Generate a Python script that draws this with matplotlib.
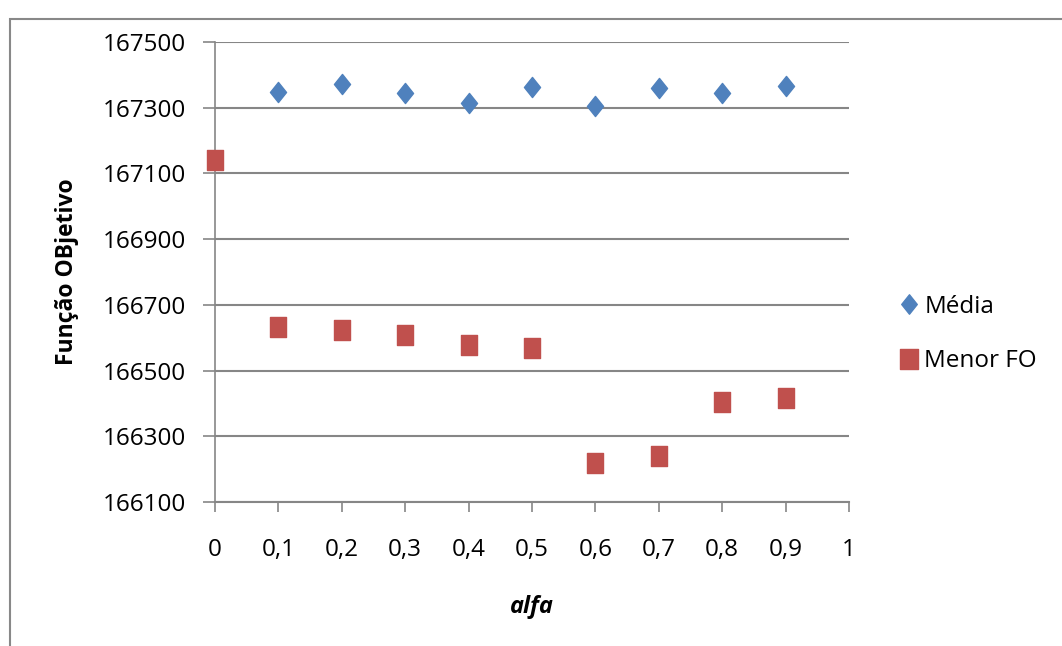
import matplotlib
matplotlib.use("Agg")
import matplotlib.pyplot as plt
from matplotlib.path import Path
from matplotlib.lines import Line2D
from matplotlib.patches import Rectangle

alfa = [0.0, 0.1, 0.2, 0.3, 0.4, 0.5, 0.6, 0.7, 0.8, 0.9]
media_x = [0.1, 0.2, 0.3, 0.4, 0.5, 0.6, 0.7, 0.8, 0.9]
media = [167348, 167372, 167344, 167313, 167364, 167306, 167360, 167346, 167366]
menor_fo = [167142, 166632, 166622, 166609, 166579, 166569, 166219, 166240, 166405, 166416]
xticks = [0, 0.1, 0.2, 0.3, 0.4, 0.5, 0.6, 0.7, 0.8, 0.9, 1.0]
xticklabels = ["0", "0,1", "0,2", "0,3", "0,4", "0,5", "0,6", "0,7", "0,8", "0,9", "1"]
yticks = [166100, 166300, 166500, 166700, 166900, 167100, 167300, 167500]

BLUE = "#4F81BD"
RED = "#C0504D"
GRID = "#868686"
FONT = "Open Sans"
FS = 17.5

diamond = Path([(0, 0.5), (0.4, 0), (0, -0.5), (-0.4, 0), (0, 0.5)],
               [Path.MOVETO, Path.LINETO, Path.LINETO, Path.LINETO, Path.CLOSEPOLY])
rect = Path([(-0.42, -0.5), (0.42, -0.5), (0.42, 0.5), (-0.42, 0.5), (-0.42, -0.5)],
            [Path.MOVETO, Path.LINETO, Path.LINETO, Path.LINETO, Path.CLOSEPOLY])

fig = plt.figure(figsize=(10.62, 6.46), dpi=100)
fig.patches.append(Rectangle((10 / 1062, -0.1), 1.2, (646 - 19) / 646 + 0.1,
                             transform=fig.transFigure, fill=False,
                             edgecolor="#888888", linewidth=1.5, zorder=0))

ax = fig.add_axes([215 / 1062, 1 - 502 / 646, (849 - 215) / 1062, (502 - 42) / 646])
ax.set_xlim(0, 1)
ax.set_ylim(166100, 167500)

ax.scatter(media_x, media, marker=diamond, s=210, color=BLUE, zorder=3,
           clip_on=False, label="Média")
ax.scatter(alfa, menor_fo, marker=rect, s=210, color=RED, zorder=3,
           clip_on=False, label="Menor FO")

ax.set_yticks(yticks)
ax.set_yticklabels([str(v) for v in yticks])
ax.set_xticks(xticks)
ax.set_xticklabels(xticklabels)
ax.grid(axis="y", color=GRID, linewidth=1.5)
ax.set_axisbelow(True)
for s in ["top", "right"]:
    ax.spines[s].set_visible(False)
ax.spines["left"].set_color(GRID)
ax.spines["bottom"].set_color(GRID)
ax.spines["left"].set_linewidth(1.2)
ax.spines["bottom"].set_linewidth(1.5)
ax.tick_params(axis="both", direction="out", color=GRID, width=1.2, labelsize=FS)
ax.tick_params(axis="x", length=7, pad=19)
ax.tick_params(axis="y", length=9, pad=12)
for lab in ax.get_xticklabels() + ax.get_yticklabels():
    lab.set_fontfamily(FONT)

ax.set_ylabel("Função OBjetivo", fontsize=16.5, fontweight="bold", family=FONT, labelpad=17)
ax.set_xlabel("alfa", fontsize=17, fontweight="bold", style="italic", family=FONT, labelpad=24)

handles = [Line2D([], [], marker=diamond, linestyle="none", color=BLUE, markersize=14),
           Line2D([], [], marker=rect, linestyle="none", color=RED, markersize=15)]
fig.legend(handles, ["Média", "Menor FO"], loc="center left",
           bbox_to_anchor=(877 / 1062, 1 - 334 / 646), frameon=False,
           prop={"family": FONT, "size": FS}, handlelength=0.8, handletextpad=0.25,
           labelspacing=1.25)

fig.savefig("out.png", dpi=100, facecolor="white")
